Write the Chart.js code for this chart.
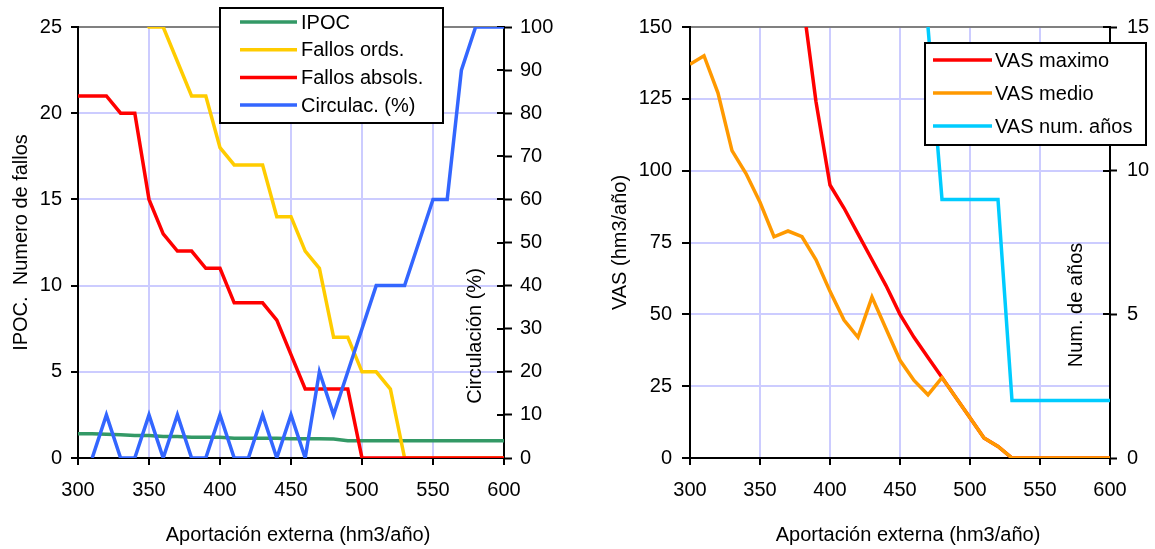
<!DOCTYPE html>
<html>
<head>
<meta charset="utf-8">
<script src="https://cdn.jsdelivr.net/npm/chart.js@4.4.0/dist/chart.umd.min.js"></script>
<style>
  body { margin: 0; background: #fff; }
  #wrap { position: relative; width: 1155px; height: 549px; }
  #c1 { position: absolute; left: 0; top: 0; }
  #c2 { position: absolute; left: 577px; top: 0; }
</style>
</head>
<body>
<div id="wrap">
  <canvas id="c1" width="577" height="549"></canvas>
  <canvas id="c2" width="578" height="549"></canvas>
</div>
<script>
let aportacion = [300, 310, 320, 330, 340, 350, 360, 370, 380, 390, 400, 410, 420, 430, 440, 450,
                  460, 470, 480, 490, 500, 510, 520, 530, 540, 550, 560, 570, 580, 590, 600];

// left chart
let ipoc = [1.4, 1.4, 1.38, 1.35, 1.3, 1.3, 1.25, 1.25, 1.2, 1.2, 1.2, 1.15, 1.15, 1.15, 1.15, 1.12,
            1.12, 1.12, 1.1, 1.0, 1.0, 1.0, 1.0, 1.0, 1.0, 1.0, 1.0, 1.0, 1.0, 1.0, 1.0];
let fallosOrds = [33, 32, 31, 29, 27, 25, 25, 23, 21, 21, 18, 17, 17, 17, 14, 14,
                  12, 11, 7, 7, 5, 5, 4, 0, 0, 0, 0, 0, 0, 0, 0];
let fallosAbsols = [21, 21, 21, 20, 20, 15, 13, 12, 12, 11, 11, 9, 9, 9, 8, 6,
                    4, 4, 4, 4, 0, 0, 0, 0, 0, 0, 0, 0, 0, 0, 0];
let circulac = [null, 0, 10, 0, 0, 10, 0, 10, 0, 0, 10, 0, 0, 10, 0, 10,
                0, 20, 10, 20, 30, 40, 40, 40, 50, 60, 60, 90, 100, 100, 100];

// right chart
let vasMaximo = [null, null, null, null, null, null, null, null, 161, 124, 95, 87, 78, 69, 60, 50,
                 42, 35, 28, 21, 14, 7, 4, 0, 0, 0, 0, 0, 0, 0, 0];
let vasMedio = [137, 140, 127, 107, 99, 89, 77, 79, 77, 69, 58, 48, 42, 56, 45, 34,
                27, 22, 28, 21, 14, 7, 4, 0, 0, 0, 0, 0, 0, 0, 0];
let vasAnios = [null, null, null, null, null, null, null, null, null, null, null, null, null, null, null, null,
                null, 15, 9, 9, 9, 9, 9, 2, 2, 2, 2, 2, 2, 2, 2];

let xTicks = { min: 300, max: 600, step: 50 };

function pts(values) {
  return aportacion.map((x, i) => ({ x: x, y: values[i] }));
}

Chart.defaults.font.family = '"Liberation Sans", Arial, sans-serif';
Chart.defaults.font.size = 20;
Chart.defaults.color = '#000';

const FONT = '20px "Liberation Sans", Arial, sans-serif';

// legend box, crossing ticks on the right axis and the axis titles Excel put in odd places
const decor = {
  id: 'decor',
  beforeDatasetsDraw(chart, args, opts) {
    const ctx = chart.ctx;
    const s = chart.scales[opts.crossAxis];
    ctx.save();
    ctx.strokeStyle = '#000';
    ctx.lineWidth = 2;
    s.ticks.forEach(t => {
      const y = Math.round(s.getPixelForValue(t.value));
      ctx.beginPath();
      ctx.moveTo(s.left - 7, y);
      ctx.lineTo(s.left, y);
      ctx.stroke();
    });
    ctx.restore();
  },
  afterDatasetsDraw(chart, args, opts) {
    const ctx = chart.ctx;
    ctx.save();
    ctx.fillStyle = '#000';
    ctx.font = FONT;
    ctx.textAlign = 'center';
    ctx.textBaseline = 'middle';
    ctx.fillText(opts.xTitle, opts.xTitleX, opts.xTitleY);
    ctx.translate(opts.titleX, opts.titleY);
    ctx.rotate(-Math.PI / 2);
    ctx.fillText(opts.title, 0, 0);
    ctx.restore();

    const b = opts.box;
    ctx.save();
    ctx.fillStyle = '#fff';
    ctx.fillRect(b.x, b.y, b.w, b.h);
    ctx.strokeStyle = '#000';
    ctx.lineWidth = 2;
    ctx.strokeRect(b.x, b.y, b.w, b.h);
    ctx.font = FONT;
    ctx.textBaseline = 'middle';
    ctx.textAlign = 'left';
    chart.data.datasets.forEach((ds, i) => {
      const y = b.row0 + i * b.gap;
      ctx.strokeStyle = ds.borderColor;
      ctx.lineWidth = 3.5;
      ctx.beginPath();
      ctx.moveTo(b.s0, y);
      ctx.lineTo(b.s1, y);
      ctx.stroke();
      ctx.fillStyle = '#000';
      ctx.fillText(ds.label, b.tx, y + 1);
    });
    ctx.restore();
  }
};

function line(label, values, color, order, axis) {
  return {
    label: label,
    data: pts(values),
    borderColor: color,
    backgroundColor: color,
    borderWidth: 3.5,
    pointRadius: 0,
    tension: 0,
    order: order,
    yAxisID: axis
  };
}

function gridColor(top) {
  return ctx => ctx.tick.value === top ? '#808080' : '#ccccff';
}

function xScale() {
  return {
    type: 'linear',
    min: xTicks.min,
    max: xTicks.max,
    afterFit: s => { s.height = 91; },
    ticks: { stepSize: xTicks.step, padding: 13, maxRotation: 0 },
    grid: { color: '#ccccff', lineWidth: 2, tickColor: '#000', tickWidth: 2, tickLength: 7 },
    border: { color: '#000', width: 2 }
  };
}

new Chart(document.getElementById('c1'), {
  type: 'line',
  data: {
    datasets: [
      line('IPOC', ipoc, '#339966', 4, 'y'),
      line('Fallos ords.', fallosOrds, '#ffcc00', 3, 'y'),
      line('Fallos absols.', fallosAbsols, '#ff0000', 2, 'y'),
      line('Circulac. (%)', circulac, '#3366ff', 1, 'y1')
    ]
  },
  options: {
    responsive: false,
    animation: false,
    devicePixelRatio: 1,
    events: [],
    layout: { padding: { left: 0, right: 0, top: 27, bottom: 0 } },
    plugins: {
      legend: { display: false },
      tooltip: { enabled: false },
      decor: {
        crossAxis: 'y1',
        xTitle: 'Aportación externa (hm3/año)', xTitleX: 298, xTitleY: 535,
        title: 'Circulación (%)', titleX: 475, titleY: 336,
        box: { x: 220, y: 8, w: 223, h: 115, row0: 22, gap: 27.7, s0: 240, s1: 297, tx: 301 }
      }
    },
    scales: {
      x: xScale(),
      y: {
        position: 'left',
        min: 0, max: 25,
        afterFit: s => { s.width = 78; },
        ticks: { stepSize: 5, padding: 9 },
        grid: { color: gridColor(25), lineWidth: 2, tickColor: '#000', tickWidth: 2, tickLength: 7 },
        border: { color: '#000', width: 2 },
        title: { display: true, text: 'IPOC.  Numero de fallos', padding: { top: 9, bottom: 0 } }
      },
      y1: {
        position: 'right',
        min: 0, max: 100,
        afterFit: s => { s.width = 73; },
        ticks: { stepSize: 10, padding: 8 },
        grid: { drawOnChartArea: false, tickColor: '#000', tickWidth: 2, tickLength: 8 },
        border: { color: '#000', width: 2 }
      }
    }
  },
  plugins: [decor]
});

new Chart(document.getElementById('c2'), {
  type: 'line',
  data: {
    datasets: [
      line('VAS maximo', vasMaximo, '#ff0000', 3, 'y'),
      line('VAS medio', vasMedio, '#ff9900', 2, 'y'),
      line('VAS num. años', vasAnios, '#00ccff', 1, 'y1')
    ]
  },
  options: {
    responsive: false,
    animation: false,
    devicePixelRatio: 1,
    events: [],
    layout: { padding: { left: 0, right: 0, top: 27, bottom: 0 } },
    plugins: {
      legend: { display: false },
      tooltip: { enabled: false },
      decor: {
        crossAxis: 'y1',
        xTitle: 'Aportación externa (hm3/año)', xTitleX: 331, xTitleY: 535,
        title: 'Num. de años', titleX: 499, titleY: 305,
        box: { x: 348, y: 43, w: 221, h: 102, row0: 60, gap: 33, s0: 356, s1: 415, tx: 418 }
      }
    },
    scales: {
      x: xScale(),
      y: {
        position: 'left',
        min: 0, max: 150,
        afterFit: s => { s.width = 113; },
        ticks: { stepSize: 25, padding: 10 },
        grid: { color: gridColor(150), lineWidth: 2, tickColor: '#000', tickWidth: 2, tickLength: 8 },
        border: { color: '#000', width: 2 },
        title: { display: true, text: 'VAS (hm3/año)', padding: { top: 31, bottom: 0 } }
      },
      y1: {
        position: 'right',
        min: 0, max: 15,
        afterFit: s => { s.width = 45; },
        ticks: { stepSize: 5, padding: 10 },
        grid: { drawOnChartArea: false, tickColor: '#000', tickWidth: 2, tickLength: 7 },
        border: { color: '#000', width: 2 }
      }
    }
  },
  plugins: [decor]
});
</script>
</body>
</html>
